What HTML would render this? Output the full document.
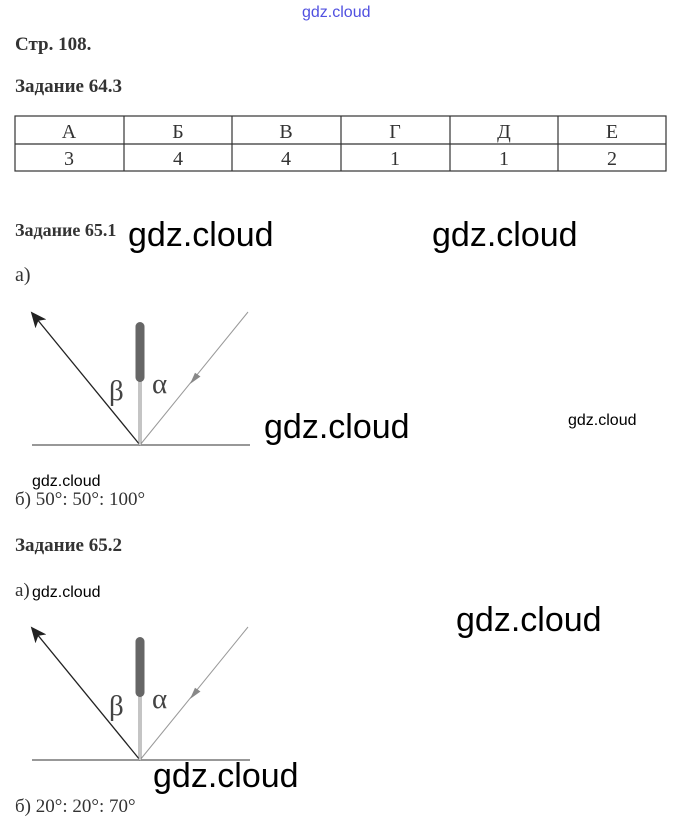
<!DOCTYPE html>
<html><head><meta charset="utf-8"><style>
html,body{margin:0;padding:0;background:#fff;width:679px;height:838px;overflow:hidden}
svg{display:block}
.s{font-family:"Liberation Serif",serif;fill:#333}
.w{font-family:"Liberation Sans",sans-serif;fill:#000}
</style></head><body>
<svg width="679" height="838" viewBox="0 0 679 838" xmlns="http://www.w3.org/2000/svg">
<defs>
<marker id="ah" markerWidth="16" markerHeight="14" refX="14" refY="7" orient="auto" markerUnits="userSpaceOnUse">
<path d="M0,0 L16,7 L0,14 L4,7 Z" fill="#222"/></marker>
</defs>
<text x="302" y="17" class="w" font-size="16" style="fill:#5050e0">gdz.cloud</text>
<text x="15" y="50" class="s" font-size="19" font-weight="bold">Стр. 108.</text>
<text x="15" y="92" class="s" font-size="19" font-weight="bold">Задание 64.3</text>
<g stroke="#333" stroke-width="1.2" fill="none">
<rect x="15" y="116" width="651" height="55"/>
<line x1="15" y1="144" x2="666" y2="144"/>
<line x1="124" y1="116" x2="124" y2="171"/>
<line x1="232" y1="116" x2="232" y2="171"/>
<line x1="341" y1="116" x2="341" y2="171"/>
<line x1="450" y1="116" x2="450" y2="171"/>
<line x1="558" y1="116" x2="558" y2="171"/>
</g>
<g class="s" font-size="20" text-anchor="middle">
<text x="69" y="138">А</text><text x="178" y="138">Б</text><text x="286" y="138">В</text><text x="395" y="138">Г</text><text x="504" y="138">Д</text><text x="612" y="138">Е</text>
<text x="69" y="165">3</text><text x="178" y="165">4</text><text x="286" y="165">4</text><text x="395" y="165">1</text><text x="504" y="165">1</text><text x="612" y="165">2</text>
</g>
<text x="15" y="236" class="s" font-size="18" font-weight="bold">Задание 65.1</text>
<text x="15" y="281" class="s" font-size="20">а)</text>
<text x="128" y="246" class="w" font-size="34">gdz.cloud</text>
<text x="432" y="246" class="w" font-size="34">gdz.cloud</text>
<text x="264" y="438" class="w" font-size="34">gdz.cloud</text>
<text x="568" y="425" class="w" font-size="16">gdz.cloud</text>
<text x="32" y="486" class="w" font-size="16">gdz.cloud</text>
<text x="15" y="505" class="s" font-size="19">б) 50°: 50°: 100°</text>

<g id="d1">
<line x1="32" y1="445" x2="250" y2="445" stroke="#777" stroke-width="1.5"/>
<line x1="140" y1="445" x2="32" y2="313" stroke="#222" stroke-width="1.3" marker-end="url(#ah)"/>
<line x1="140" y1="445" x2="248" y2="312" stroke="#999" stroke-width="1"/>
<path d="M190,384 L200.5,376.5 L195,372.7 Z" fill="#888"/>
<line x1="140" y1="380" x2="140" y2="445" stroke="#888" stroke-width="3"/>
<line x1="140" y1="380" x2="140" y2="445" stroke="#fff" stroke-width="1"/>
<rect x="135.5" y="322" width="9" height="60" rx="4.5" fill="#666"/>
<text x="109" y="400" class="s" font-size="29" style="fill:#444">β</text>
<text x="152" y="393" class="s" font-size="29" style="fill:#444">α</text>
</g>

<text x="15" y="551" class="s" font-size="19" font-weight="bold">Задание 65.2</text>
<text x="15" y="596" class="s" font-size="19">а)</text>
<text x="32" y="597" class="w" font-size="16">gdz.cloud</text>
<text x="456" y="631" class="w" font-size="34">gdz.cloud</text>
<use href="#d1" transform="translate(0,315)"/>
<text x="153" y="787" class="w" font-size="34">gdz.cloud</text>
<text x="15" y="812" class="s" font-size="19">б) 20°: 20°: 70°</text>
</svg>
</body></html>
